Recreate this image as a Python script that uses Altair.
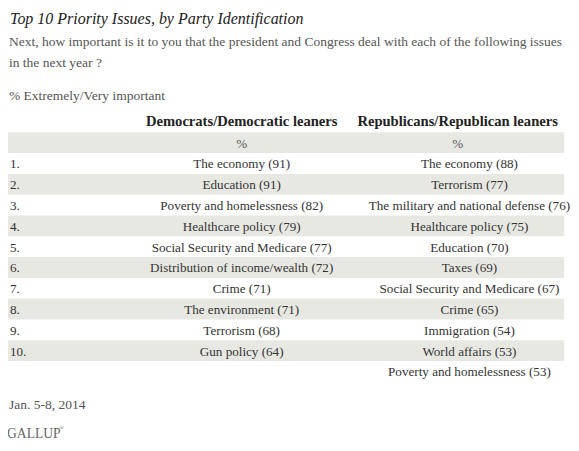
import altair as alt
import pandas as pd

# ---- data ----
ranks = ["1.", "2.", "3.", "4.", "5.", "6.", "7.", "8.", "9.", "10.", ""]
dem_issues = ["The economy", "Education", "Poverty and homelessness", "Healthcare policy",
              "Social Security and Medicare", "Distribution of income/wealth", "Crime",
              "The environment", "Terrorism", "Gun policy", ""]
dem_values = [91, 91, 82, 79, 77, 72, 71, 71, 68, 64, None]
rep_issues = ["The economy", "Terrorism", "The military and national defense", "Healthcare policy",
              "Education", "Taxes", "Social Security and Medicare", "Crime", "Immigration",
              "World affairs", "Poverty and homelessness"]
rep_values = [88, 77, 76, 75, 70, 69, 67, 65, 54, 53, 53]
group_headers = ["Democrats/Democratic leaners", "Republicans/Republican leaners"]
unit_row = ["%", "%"]

title_text = "Top 10 Priority Issues, by Party Identification"
question_lines = ["Next, how important is it to you that the president and Congress deal with each of the following issues",
                  "in the next year ?"]
measure_text = "% Extremely/Very important"
date_text = "Jan. 5-8, 2014"
source_text = "GALLUP"

FONT = "Liberation Serif"
W, H = 571, 435


def label(issue, val):
    return "" if val is None else f"{issue} ({val})"


table = pd.DataFrame({
    "row": list(range(1, len(ranks) + 1)),
    "rank": ranks,
    "dem": [label(a, b) for a, b in zip(dem_issues, dem_values)],
    "rep": [label(a, b) for a, b in zip(rep_issues, rep_values)],
})
heads = pd.DataFrame({"row": [-1], "dem": [group_headers[0]], "rep": [group_headers[1]]})
units = pd.DataFrame({"row": [0], "dem": [unit_row[0]], "rep": [unit_row[1]]})
bands = pd.DataFrame({"row": [0, 2, 4, 6, 8, 10]})
bands["lo"] = bands["row"] - 0.5
bands["hi"] = bands["row"] + 0.5

pitch = 21.1
top0 = 133.5
yscale = alt.Scale(domain=[-top0 / pitch, (H - top0) / pitch], reverse=True, nice=False, zero=False)
Y = alt.Y("row:Q", scale=yscale, axis=None)

X_RANK, X_DEM, X_REP, X_REP_H = 2, 237, 468, 456
CELL = 13.3

band_layer = alt.Chart(bands).mark_rect(color="#e8e8e3").encode(
    x=alt.value(0), x2=alt.value(564),
    y=alt.Y("lo:Q", scale=yscale, axis=None), y2="hi:Q")


def col_layer(df, field, x, align="center", size=CELL, color="#333333", weight="normal", dy=1):
    return alt.Chart(df).mark_text(
        align=align, baseline="middle", font=FONT, fontSize=size, color=color,
        fontWeight=weight, dy=dy).encode(x=alt.value(x), y=Y, text=f"{field}:N")


layers = [
    band_layer,
    col_layer(table, "rank", X_RANK, align="left"),
    col_layer(table, "dem", X_DEM),
    col_layer(table, "rep", X_REP),
    col_layer(units, "dem", X_DEM, color="#555555"),
    col_layer(units, "rep", X_REP_H, color="#555555"),
    col_layer(heads, "dem", X_DEM, size=14.8, color="#222222", weight="bold", dy=0),
    col_layer(heads, "rep", X_REP_H, size=14.8, color="#222222", weight="bold", dy=0),
]


def note(txt, x, y, size, color, style="normal"):
    return alt.Chart(pd.DataFrame({"t": [txt]})).mark_text(
        align="left", baseline="alphabetic", font=FONT, fontSize=size, color=color,
        fontStyle=style).encode(x=alt.value(x), y=alt.value(y), text="t:N")


layers += [
    note(title_text, 2, 13, 16.2, "#222222", style="italic"),
    note(question_lines[0], 1, 35.5, 13.7, "#555555"),
    note(question_lines[1], 1, 57, 13.7, "#555555"),
    note(measure_text, 1, 90.5, 13.7, "#555555"),
    note(date_text, 1, 403.5, 13.7, "#555555"),
    note(source_text, -1, 433, 13.8, "#666666"),
    note("®", 52, 425, 6, "#666666"),
]

chart = alt.layer(*layers).properties(
    width=W, height=H, padding=0, autosize=alt.AutoSizeParams(type="none"),
    background="white"
).configure_view(strokeWidth=0)

chart.save("out.html", embed_options={"renderer": "svg", "actions": False})
